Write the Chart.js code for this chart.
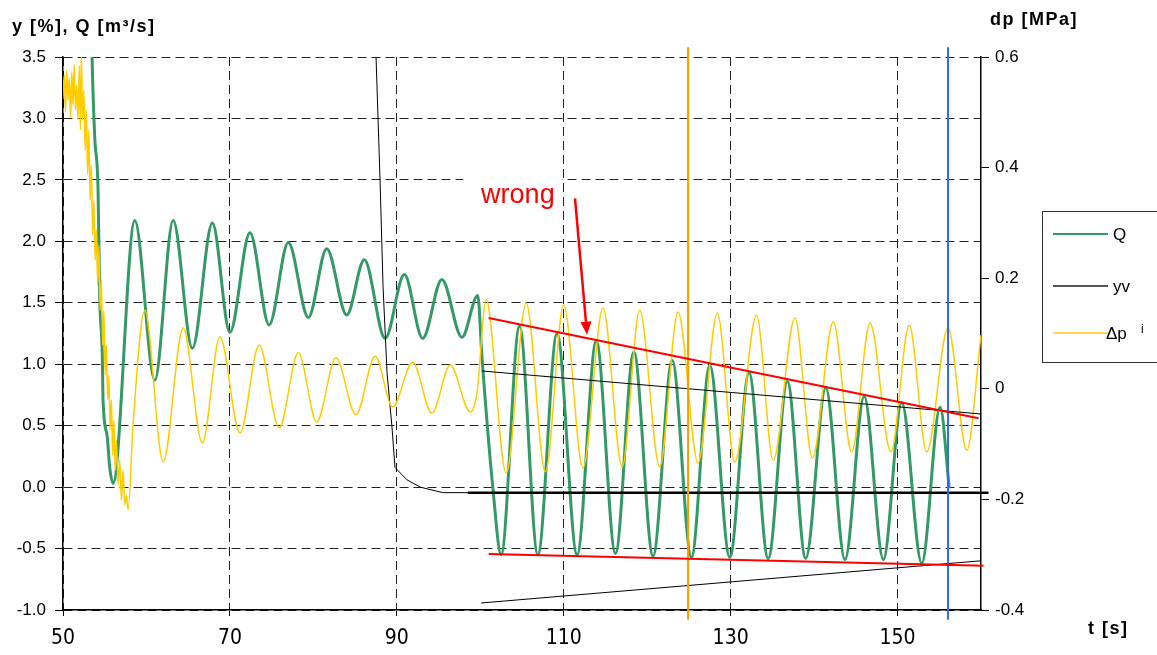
<!DOCTYPE html>
<html>
<head>
<meta charset="utf-8">
<script src="https://cdn.jsdelivr.net/npm/chart.js@4.4.1/dist/chart.umd.min.js"></script>
<style>
  html, body { margin: 0; padding: 0; background: #fff; }
  #wrap { width: 1157px; height: 655px; position: relative; }
</style>
</head>
<body>
<div id="wrap"><canvas id="chart"></canvas></div>
<script>
// axis ticks
const tTicks = [50, 70, 90, 110, 130, 150];
const yTicks = [-1.0, -0.5, 0.0, 0.5, 1.0, 1.5, 2.0, 2.5, 3.0, 3.5];
const dpTicks = [-0.4, -0.2, 0, 0.2, 0.4, 0.6];

// Q [m3/s] (turning points + steep parts)
const qTime = [53.4, 53.5, 53.8, 54.2, 54.4, 54.7, 54.8, 55.3, 55.6, 56.0, 58.6, 61.0, 63.2, 65.5, 67.9, 70.0, 72.4, 74.7, 77.0, 79.4, 81.6, 84.0, 86.1, 88.6, 90.9, 93.1, 95.4, 97.8, 99.7, 100.2, 101.5, 102.5, 104.7, 106.9, 109.2, 111.6, 113.9, 116.2, 118.4, 120.7, 123.0, 125.3, 127.5, 129.9, 132.2, 134.5, 136.8, 139.0, 141.4, 143.7, 146.0, 148.3, 150.5, 152.9, 155.1, 156.2];
const qValue = [3.8, 3.45, 2.85, 2.42, 1.55, 1.09, 0.71, 0.41, 0.16, 0.03, 2.17, 0.87, 2.17, 1.13, 2.15, 1.26, 2.07, 1.32, 1.99, 1.38, 1.94, 1.40, 1.85, 1.21, 1.73, 1.21, 1.69, 1.22, 1.56, 1.06, 0.0, -0.55, 1.31, -0.55, 1.25, -0.55, 1.19, -0.54, 1.10, -0.56, 1.03, -0.57, 0.99, -0.57, 0.93, -0.58, 0.86, -0.58, 0.81, -0.59, 0.74, -0.59, 0.69, -0.62, 0.65, -0.01];

// yv [%]
const yvTime = [87.45, 87.51, 87.99, 88.35, 88.83, 89.42, 89.78, 91.2, 92.8, 95.5, 160.0];
const yvValue = [3.9, 3.5, 2.5, 1.63, 0.93, 0.49, 0.16, 0.06, 0.0, -0.045, -0.045];

// dp [MPa] (right axis)
const dpTime = [50.0, 50.15, 50.3, 50.45, 50.6, 50.75, 50.9, 51.05, 51.2, 51.35, 51.5, 51.65, 51.8, 51.95, 52.1, 52.2, 52.35, 52.5, 52.65, 52.8, 52.95, 53.1, 53.25, 53.4, 53.55, 53.7, 53.85, 54.0, 54.15, 54.3, 54.45, 54.6, 54.75, 54.9, 55.05, 55.2, 55.35, 55.5, 55.65, 55.8, 55.95, 56.1, 56.25, 56.4, 56.6, 56.8, 57.0, 57.2, 57.4, 57.6, 57.8, 58.4, 59.8, 62.0, 64.4, 66.7, 68.8, 71.2, 73.5, 75.9, 78.2, 80.4, 82.7, 85.1, 87.4, 89.5, 91.9, 94.2, 96.4, 98.8, 99.6, 100.7, 103.1, 105.5, 107.8, 110.0, 112.3, 114.7, 117.0, 119.1, 121.5, 123.7, 126.1, 128.4, 130.5, 133.1, 135.1, 137.7, 139.8, 142.3, 144.5, 146.7, 149.2, 151.4, 153.5, 156.05, 158.3, 160.0];
const dpValue = [0.531, 0.567, 0.501, 0.576, 0.522, 0.562, 0.490, 0.573, 0.513, 0.587, 0.504, 0.549, 0.486, 0.584, 0.468, 0.61, 0.486, 0.540, 0.432, 0.504, 0.387, 0.468, 0.341, 0.405, 0.278, 0.341, 0.233, 0.287, 0.188, 0.260, 0.142, 0.197, 0.079, 0.142, 0.025, 0.079, -0.020, 0.025, -0.074, -0.020, -0.120, -0.056, -0.147, -0.093, -0.174, -0.129, -0.201, -0.147, -0.210, -0.192, -0.219, -0.063, 0.142, -0.132, 0.110, -0.098, 0.094, -0.080, 0.079, -0.071, 0.065, -0.060, 0.056, -0.047, 0.059, -0.033, 0.048, -0.044, 0.043, -0.042, -0.008, 0.161, -0.152, 0.155, -0.150, 0.152, -0.143, 0.146, -0.141, 0.142, -0.141, 0.139, -0.134, 0.137, -0.132, 0.133, -0.129, 0.128, -0.125, 0.121, -0.114, 0.119, -0.114, 0.115, -0.114, 0.110, -0.111, 0.097];

// drawn-in lines (t, y on left axis)
const redTopLine = [[101.0, 1.376], [159.7, 0.56]];
const redBottomLine = [[101.0, -0.544], [160.3, -0.64]];
const blackTopLine = [[100.2, 0.945], [160.0, 0.595]];
const blackBottomLine = [[100.1, -0.943], [159.9, -0.60]];
const yvMeanLine = [[98.5, -0.045], [160.9, -0.045]];
const orangeMark = [[124.9, -1.08], [124.9, 3.58]];
const blueMark = [[156.05, -1.08], [156.05, 3.58]];

// "wrong" label and arrow (t, y on left axis)
const wrongLabel = [100.1, 2.31];
const arrowFrom = [111.35, 2.35];
const arrowTo = [112.8, 1.24];

const pts = (ts, vs) => ts.map((t, i) => ({ x: t, y: vs[i] }));
const seg = (p) => p.map(([t, v]) => ({ x: t, y: v }));

function lineSet(data, color, width, order) {
  return {
    data: seg(data), borderColor: color, borderWidth: width,
    pointRadius: 0, tension: 0, clip: false, order: order
  };
}

Chart.defaults.font.family = "'Liberation Sans', Arial, sans-serif";
Chart.defaults.color = "#000";

const overlay = {
  id: "overlay",
  beforeDatasetsDraw(chart) {
    const { ctx, scales: { x, y } } = chart;
    // white patch behind the label, as in the original
    ctx.save();
    ctx.fillStyle = "#fff";
    const x0 = x.getPixelForValue(97.95), x1 = x.getPixelForValue(109.8);
    const y0 = y.getPixelForValue(2.62), y1 = y.getPixelForValue(2.25);
    ctx.fillRect(x0, y0, x1 - x0, y1 - y0);
    ctx.restore();
  },
  afterDraw(chart) {
    const { ctx, scales: { x, y } } = chart;
    ctx.save();

    // wrong + arrow
    ctx.fillStyle = "#ff0000";
    ctx.font = "27px 'Liberation Sans', Arial";
    ctx.textBaseline = "alphabetic";
    ctx.fillText("wrong", x.getPixelForValue(wrongLabel[0]), y.getPixelForValue(wrongLabel[1]));

    const ax = x.getPixelForValue(arrowFrom[0]), ay = y.getPixelForValue(arrowFrom[1]);
    const bx = x.getPixelForValue(arrowTo[0]), by = y.getPixelForValue(arrowTo[1]);
    const ang = Math.atan2(by - ay, bx - ax);
    const head = 13, half = 5.5;
    const hx = bx - head * Math.cos(ang), hy = by - head * Math.sin(ang);
    ctx.strokeStyle = "#ff0000";
    ctx.lineWidth = 2.5;
    ctx.beginPath();
    ctx.moveTo(ax, ay);
    ctx.lineTo(hx, hy);
    ctx.stroke();
    ctx.beginPath();
    ctx.moveTo(bx, by);
    ctx.lineTo(hx + half * Math.sin(ang), hy - half * Math.cos(ang));
    ctx.lineTo(hx - half * Math.sin(ang), hy + half * Math.cos(ang));
    ctx.closePath();
    ctx.fill();

    // axis titles
    ctx.fillStyle = "#000";
    ctx.font = "bold 18px 'Liberation Sans', Arial";
    ctx.letterSpacing = "1.5px";
    ctx.fillText("y [%], Q [m\u00b3/s]", 12, 32);
    ctx.fillText("dp [MPa]", 990, 25);
    ctx.fillText("t [s]", 1088, 634);
    ctx.letterSpacing = "0px";

    // legend
    ctx.strokeStyle = "#333";
    ctx.lineWidth = 1;
    ctx.strokeRect(1042.5, 211.5, 130, 151);
    const rows = [
      ["Q", "#339966", 234, 1113],
      ["yv", "#555555", 286, 1113],
      ["\u0394p", "#ffd84a", 333, 1106]
    ];
    ctx.font = "17px 'Liberation Sans', Arial";
    ctx.textBaseline = "middle";
    rows.forEach(([name, color, ly, tx]) => {
      ctx.strokeStyle = color;
      ctx.lineWidth = 2;
      ctx.beginPath();
      ctx.moveTo(1053, ly);
      ctx.lineTo(1108, ly);
      ctx.stroke();
      ctx.fillStyle = "#000";
      ctx.fillText(name, tx, ly + 1);
    });
    ctx.font = "12px 'Liberation Sans', Arial";
    ctx.fillText("i", 1141, 330);
    ctx.restore();
  }
};

const dashGrid = {
  color: "#222", lineWidth: 1, tickColor: "#000", tickWidth: 1,
  tickBorderDash: []
};

new Chart(document.getElementById("chart"), {
  type: "line",
  data: {
    datasets: [
      lineSet(redTopLine, "#ff0000", 2, 0),
      lineSet(redBottomLine, "#ff0000", 2, 0),
      lineSet(orangeMark, "#ff9900", 2, 1),
      lineSet(blueMark, "#3366ff", 2, 1),
      lineSet(blackTopLine, "#000", 1, 2),
      lineSet(blackBottomLine, "#000", 1, 2),
      lineSet(yvMeanLine, "#000", 2.5, 2),
      {
        label: "\u0394p", data: pts(dpTime, dpValue), yAxisID: "y2",
        borderColor: "#ffcc00", borderWidth: 1.5, pointRadius: 0,
        cubicInterpolationMode: "monotone", order: 3
      },
      {
        label: "yv", data: pts(yvTime, yvValue), yAxisID: "y",
        borderColor: "#000", borderWidth: 1, pointRadius: 0, tension: 0, order: 4
      },
      {
        label: "Q", data: pts(qTime, qValue), yAxisID: "y",
        borderColor: "#339966", borderWidth: 3, pointRadius: 0,
        cubicInterpolationMode: "monotone", order: 5
      }
    ]
  },
  options: {
    animation: false,
    responsive: true,
    maintainAspectRatio: false,
    layout: { padding: { top: 57, left: 0, right: 0, bottom: 0 } },
    plugins: { legend: { display: false }, tooltip: { enabled: false } },
    scales: {
      x: {
        type: "linear", min: 50, max: 160,
        afterBuildTicks: (s) => { s.ticks = tTicks.map((v) => ({ value: v })); },
        afterFit: (s) => { s.height = 45; },
        grid: Object.assign({}, dashGrid, { tickLength: 6 }),
        border: { display: true, color: "#000", width: 1.5, dash: [9, 5] },
        ticks: {
          padding: 10, maxRotation: 0,
          font: { family: "'Liberation Sans Narrow', 'DejaVu Sans Condensed', Arial", size: 21 }
        }
      },
      y: {
        position: "left", min: -1.0, max: 3.5,
        afterBuildTicks: (s) => { s.ticks = yTicks.map((v) => ({ value: v })); },
        afterFit: (s) => { s.width = 63; },
        grid: Object.assign({}, dashGrid, { tickLength: 8 }),
        border: { display: true, color: "#000", width: 1.5, dash: [9, 5] },
        ticks: { padding: 9, font: { size: 17 }, callback: (v) => v.toFixed(1) }
      },
      y2: {
        position: "right", min: -0.4, max: 0.6,
        afterBuildTicks: (s) => { s.ticks = dpTicks.map((v) => ({ value: v })); },
        afterFit: (s) => { s.width = 176; },
        grid: { drawOnChartArea: false, tickLength: 8, tickColor: "#000" },
        border: { display: true, color: "#000", width: 1.5 },
        ticks: { padding: 6, font: { size: 17 }, callback: (v) => (Math.abs(v) < 1e-9 ? "0" : v.toFixed(1)) }
      }
    }
  },
  plugins: [overlay]
});
</script>
</body>
</html>
